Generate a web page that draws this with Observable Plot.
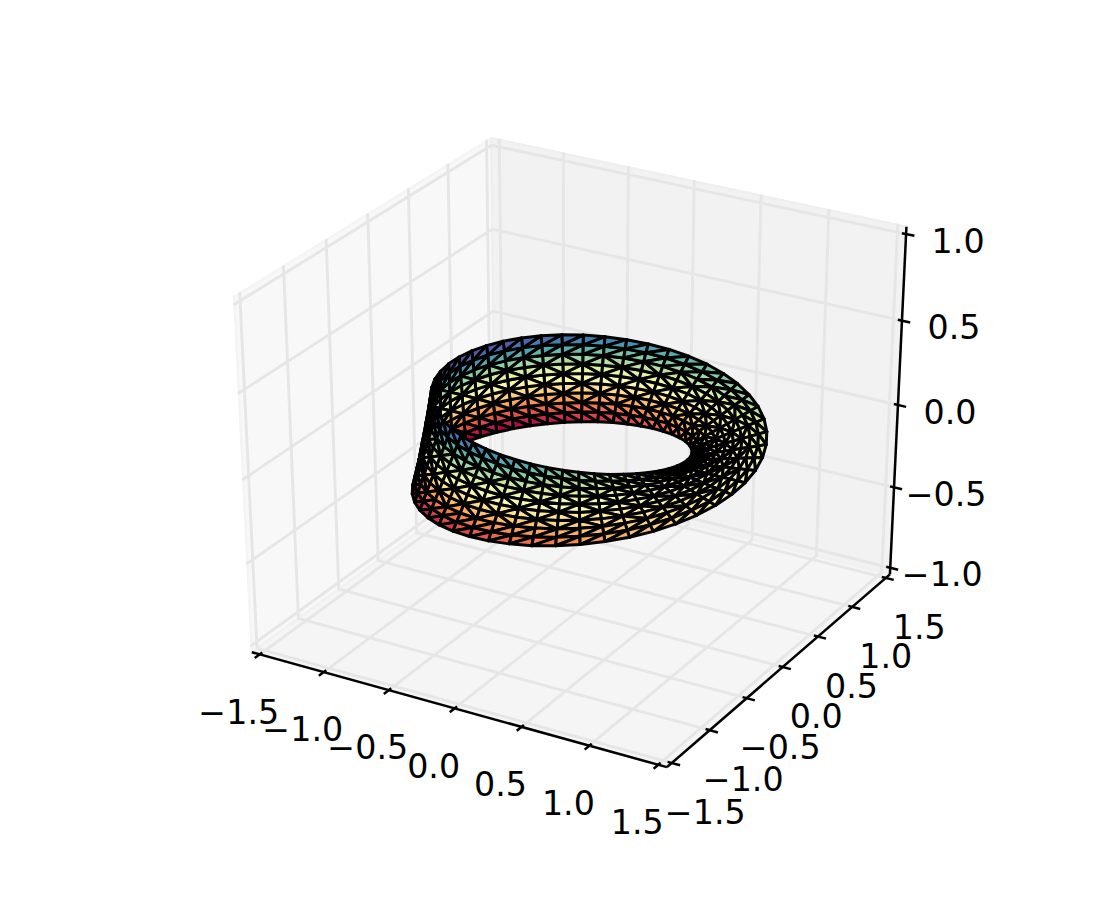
<!DOCTYPE html>
<html>
<head>
<meta charset="utf-8">
<script src="https://cdn.jsdelivr.net/npm/d3@7"></script>
<script src="https://cdn.jsdelivr.net/npm/@observablehq/plot@0.6"></script>
<style>
html,body{margin:0;padding:0;background:#fff;overflow:hidden}
svg{display:block}
</style>
</head>
<body>
<div id="chart"></div>
<script>
const xTicks = [-1.5,-1,-0.5,0,0.5,1,1.5];
const yTicks = [-1.5,-1,-0.5,0,0.5,1,1.5];
const zTicks = [-1,-0.5,0,0.5,1];
const xTickLabels = ["−1.5","−1.0","−0.5","0.0","0.5","1.0","1.5"];
const yTickLabels = ["−1.5","−1.0","−0.5","0.0","0.5","1.0","1.5"];
const zTickLabels = ["−1.0","−0.5","0.0","0.5","1.0"];
const xyLimits = [-1.5, 1.5];
const zLimits = [-1, 1];
const xyBox = [-1.5625, 1.5625];
const zBox = [-1.04167, 1.04167];

// Surface vertices read as 50 columns around the ring, 10 points across the strip
const stripX = [
[.75,.806,.861,.917,.972,1.028,1.083,1.139,1.194,1.25],
[.745,.8,.855,.91,.964,1.019,1.074,1.129,1.184,1.239],
[.727,.781,.834,.887,.941,.994,1.047,1.1,1.154,1.207],
[.7,.75,.801,.851,.902,.952,1.003,1.053,1.104,1.154],
[.66,.707,.754,.801,.848,.894,.941,.988,1.035,1.082],
[.611,.654,.696,.738,.78,.823,.865,.907,.949,.992],
[.552,.589,.626,.663,.7,.737,.774,.811,.848,.885],
[.483,.514,.545,.577,.608,.639,.67,.701,.733,.764],
[.405,.431,.456,.481,.506,.531,.556,.581,.606,.631],
[.32,.339,.358,.377,.395,.414,.433,.452,.471,.49],
[.227,.24,.253,.266,.278,.291,.303,.316,.329,.342],
[.129,.136,.143,.149,.156,.163,.17,.176,.183,.19],
[.026,.028,.029,.03,.031,.033,.034,.035,.036,.038],
[-.08,-.083,-.087,-.091,-.094,-.098,-.101,-.105,-.109,-.112],
[-.188,-.195,-.203,-.211,-.219,-.227,-.234,-.242,-.25,-.258],
[-.296,-.307,-.318,-.329,-.34,-.351,-.362,-.373,-.384,-.395],
[-.403,-.416,-.429,-.443,-.456,-.469,-.482,-.496,-.509,-.522],
[-.506,-.521,-.535,-.55,-.565,-.579,-.594,-.609,-.623,-.638],
[-.604,-.619,-.634,-.65,-.665,-.68,-.695,-.71,-.725,-.74],
[-.696,-.711,-.725,-.74,-.754,-.769,-.783,-.798,-.812,-.827],
[-.778,-.792,-.805,-.818,-.831,-.845,-.858,-.871,-.884,-.898],
[-.851,-.862,-.873,-.884,-.895,-.907,-.918,-.929,-.94,-.951],
[-.911,-.92,-.928,-.936,-.945,-.953,-.962,-.97,-.978,-.987],
[-.958,-.963,-.969,-.974,-.979,-.984,-.989,-.995,-1,-1.005],
[-.99,-.992,-.994,-.995,-.997,-.999,-1.001,-1.002,-1.004,-1.006],
[-1.006,-1.004,-1.002,-1.001,-.999,-.997,-.995,-.994,-.992,-.99],
[-1.005,-1,-.995,-.989,-.984,-.979,-.974,-.969,-.963,-.958],
[-.987,-.978,-.97,-.962,-.953,-.945,-.936,-.928,-.92,-.911],
[-.951,-.94,-.929,-.918,-.907,-.895,-.884,-.873,-.862,-.851],
[-.898,-.884,-.871,-.858,-.845,-.831,-.818,-.805,-.792,-.778],
[-.827,-.812,-.798,-.783,-.769,-.754,-.74,-.725,-.711,-.696],
[-.74,-.725,-.71,-.695,-.68,-.665,-.65,-.634,-.619,-.604],
[-.638,-.623,-.609,-.594,-.579,-.565,-.55,-.535,-.521,-.506],
[-.522,-.509,-.496,-.482,-.469,-.456,-.443,-.429,-.416,-.403],
[-.395,-.384,-.373,-.362,-.351,-.34,-.329,-.318,-.307,-.296],
[-.258,-.25,-.242,-.234,-.227,-.219,-.211,-.203,-.195,-.188],
[-.112,-.109,-.105,-.101,-.098,-.094,-.091,-.087,-.083,-.08],
[.038,.036,.035,.034,.033,.031,.03,.029,.028,.026],
[.19,.183,.176,.17,.163,.156,.149,.143,.136,.129],
[.342,.329,.316,.303,.291,.278,.266,.253,.24,.227],
[.49,.471,.452,.433,.414,.395,.377,.358,.339,.32],
[.631,.606,.581,.556,.531,.506,.481,.456,.431,.405],
[.764,.733,.701,.67,.639,.608,.577,.545,.514,.483],
[.885,.848,.811,.774,.737,.7,.663,.626,.589,.552],
[.992,.949,.907,.865,.823,.78,.738,.696,.654,.611],
[1.082,1.035,.988,.941,.894,.848,.801,.754,.707,.66],
[1.154,1.104,1.053,1.003,.952,.902,.851,.801,.75,.7],
[1.207,1.154,1.1,1.047,.994,.941,.887,.834,.781,.727],
[1.239,1.184,1.129,1.074,1.019,.964,.91,.855,.8,.745],
[1.25,1.194,1.139,1.083,1.028,.972,.917,.861,.806,.75]
];
const stripY = [
[0,0,0,0,0,0,0,0,0,0],
[.096,.103,.11,.117,.124,.132,.139,.146,.153,.16],
[.191,.205,.219,.233,.247,.261,.275,.289,.303,.317],
[.283,.303,.324,.344,.365,.385,.406,.426,.447,.467],
[.372,.399,.425,.451,.478,.504,.531,.557,.583,.61],
[.456,.488,.519,.551,.582,.614,.645,.677,.708,.74],
[.535,.571,.606,.642,.678,.714,.749,.785,.821,.857],
[.606,.645,.684,.723,.762,.801,.841,.88,.919,.958],
[.669,.71,.752,.793,.834,.876,.917,.958,1,1.041],
[.723,.765,.808,.851,.893,.936,.978,1.021,1.063,1.106],
[.767,.81,.852,.895,.937,.98,1.023,1.065,1.108,1.151],
[.799,.841,.883,.925,.966,1.008,1.05,1.092,1.133,1.175],
[.82,.86,.9,.94,.98,1.02,1.06,1.099,1.139,1.179],
[.828,.865,.902,.939,.977,1.014,1.051,1.088,1.125,1.162],
[.823,.857,.891,.924,.958,.992,1.026,1.059,1.093,1.127],
[.805,.835,.864,.894,.924,.954,.984,1.014,1.043,1.073],
[.772,.798,.823,.849,.874,.9,.925,.951,.976,1.002],
[.725,.746,.767,.788,.809,.831,.852,.873,.894,.915],
[.665,.682,.698,.715,.732,.748,.765,.782,.798,.815],
[.592,.604,.617,.629,.642,.654,.667,.679,.692,.704],
[.507,.515,.524,.533,.541,.55,.558,.567,.576,.584],
[.41,.415,.42,.426,.431,.437,.442,.447,.453,.458],
[.302,.305,.308,.311,.314,.316,.319,.322,.325,.328],
[.186,.187,.188,.189,.19,.192,.193,.194,.195,.196],
[.063,.064,.064,.064,.064,.064,.064,.064,.064,.065],
[-.065,-.064,-.064,-.064,-.064,-.064,-.064,-.064,-.064,-.063],
[-.196,-.195,-.194,-.193,-.192,-.19,-.189,-.188,-.187,-.186],
[-.328,-.325,-.322,-.319,-.316,-.314,-.311,-.308,-.305,-.302],
[-.458,-.453,-.447,-.442,-.437,-.431,-.426,-.42,-.415,-.41],
[-.584,-.576,-.567,-.558,-.55,-.541,-.533,-.524,-.515,-.507],
[-.704,-.692,-.679,-.667,-.654,-.642,-.629,-.617,-.604,-.592],
[-.815,-.798,-.782,-.765,-.748,-.732,-.715,-.698,-.682,-.665],
[-.915,-.894,-.873,-.852,-.831,-.809,-.788,-.767,-.746,-.725],
[-1.002,-.976,-.951,-.925,-.9,-.874,-.849,-.823,-.798,-.772],
[-1.073,-1.043,-1.014,-.984,-.954,-.924,-.894,-.864,-.835,-.805],
[-1.127,-1.093,-1.059,-1.026,-.992,-.958,-.924,-.891,-.857,-.823],
[-1.162,-1.125,-1.088,-1.051,-1.014,-.977,-.939,-.902,-.865,-.828],
[-1.179,-1.139,-1.099,-1.06,-1.02,-.98,-.94,-.9,-.86,-.82],
[-1.175,-1.133,-1.092,-1.05,-1.008,-.966,-.925,-.883,-.841,-.799],
[-1.151,-1.108,-1.065,-1.023,-.98,-.937,-.895,-.852,-.81,-.767],
[-1.106,-1.063,-1.021,-.978,-.936,-.893,-.851,-.808,-.765,-.723],
[-1.041,-1,-.958,-.917,-.876,-.834,-.793,-.752,-.71,-.669],
[-.958,-.919,-.88,-.841,-.801,-.762,-.723,-.684,-.645,-.606],
[-.857,-.821,-.785,-.749,-.714,-.678,-.642,-.606,-.571,-.535],
[-.74,-.708,-.677,-.645,-.614,-.582,-.551,-.519,-.488,-.456],
[-.61,-.583,-.557,-.531,-.504,-.478,-.451,-.425,-.399,-.372],
[-.467,-.447,-.426,-.406,-.385,-.365,-.344,-.324,-.303,-.283],
[-.317,-.303,-.289,-.275,-.261,-.247,-.233,-.219,-.205,-.191],
[-.16,-.153,-.146,-.139,-.132,-.124,-.117,-.11,-.103,-.096],
[0,0,0,0,0,0,0,0,0,0]
];
const stripZ = [
[0,0,0,0,0,0,0,0,0,0],
[-.016,-.012,-.009,-.005,-.002,.002,.005,.009,.012,.016],
[-.032,-.025,-.018,-.011,-.004,.004,.011,.018,.025,.032],
[-.048,-.037,-.027,-.016,-.005,.005,.016,.027,.037,.048],
[-.063,-.049,-.035,-.021,-.007,.007,.021,.035,.049,.063],
[-.079,-.061,-.044,-.026,-.009,.009,.026,.044,.061,.079],
[-.094,-.073,-.052,-.031,-.01,.01,.031,.052,.073,.094],
[-.108,-.084,-.06,-.036,-.012,.012,.036,.06,.084,.108],
[-.123,-.095,-.068,-.041,-.014,.014,.041,.068,.095,.123],
[-.136,-.106,-.076,-.045,-.015,.015,.045,.076,.106,.136],
[-.15,-.116,-.083,-.05,-.017,.017,.05,.083,.116,.15],
[-.162,-.126,-.09,-.054,-.018,.018,.054,.09,.126,.162],
[-.174,-.135,-.097,-.058,-.019,.019,.058,.097,.135,.174],
[-.185,-.144,-.103,-.062,-.021,.021,.062,.103,.144,.185],
[-.195,-.152,-.109,-.065,-.022,.022,.065,.109,.152,.195],
[-.205,-.159,-.114,-.068,-.023,.023,.068,.114,.159,.205],
[-.214,-.166,-.119,-.071,-.024,.024,.071,.119,.166,.214],
[-.222,-.172,-.123,-.074,-.025,.025,.074,.123,.172,.222],
[-.229,-.178,-.127,-.076,-.025,.025,.076,.127,.178,.229],
[-.235,-.182,-.13,-.078,-.026,.026,.078,.13,.182,.235],
[-.24,-.186,-.133,-.08,-.027,.027,.08,.133,.186,.24],
[-.244,-.19,-.135,-.081,-.027,.027,.081,.135,.19,.244],
[-.247,-.192,-.137,-.082,-.027,.027,.082,.137,.192,.247],
[-.249,-.194,-.138,-.083,-.028,.028,.083,.138,.194,.249],
[-.25,-.194,-.139,-.083,-.028,.028,.083,.139,.194,.25],
[-.25,-.194,-.139,-.083,-.028,.028,.083,.139,.194,.25],
[-.249,-.194,-.138,-.083,-.028,.028,.083,.138,.194,.249],
[-.247,-.192,-.137,-.082,-.027,.027,.082,.137,.192,.247],
[-.244,-.19,-.135,-.081,-.027,.027,.081,.135,.19,.244],
[-.24,-.186,-.133,-.08,-.027,.027,.08,.133,.186,.24],
[-.235,-.182,-.13,-.078,-.026,.026,.078,.13,.182,.235],
[-.229,-.178,-.127,-.076,-.025,.025,.076,.127,.178,.229],
[-.222,-.172,-.123,-.074,-.025,.025,.074,.123,.172,.222],
[-.214,-.166,-.119,-.071,-.024,.024,.071,.119,.166,.214],
[-.205,-.159,-.114,-.068,-.023,.023,.068,.114,.159,.205],
[-.195,-.152,-.109,-.065,-.022,.022,.065,.109,.152,.195],
[-.185,-.144,-.103,-.062,-.021,.021,.062,.103,.144,.185],
[-.174,-.135,-.097,-.058,-.019,.019,.058,.097,.135,.174],
[-.162,-.126,-.09,-.054,-.018,.018,.054,.09,.126,.162],
[-.15,-.116,-.083,-.05,-.017,.017,.05,.083,.116,.15],
[-.136,-.106,-.076,-.045,-.015,.015,.045,.076,.106,.136],
[-.123,-.095,-.068,-.041,-.014,.014,.041,.068,.095,.123],
[-.108,-.084,-.06,-.036,-.012,.012,.036,.06,.084,.108],
[-.094,-.073,-.052,-.031,-.01,.01,.031,.052,.073,.094],
[-.079,-.061,-.044,-.026,-.009,.009,.026,.044,.061,.079],
[-.063,-.049,-.035,-.021,-.007,.007,.021,.035,.049,.063],
[-.048,-.037,-.027,-.016,-.005,.005,.016,.027,.037,.048],
[-.032,-.025,-.018,-.011,-.004,.004,.011,.018,.025,.032],
[-.016,-.012,-.009,-.005,-.002,.002,.005,.009,.012,.016],
[0,0,0,0,0,0,0,0,0,0]
];

// View basis for the 3D camera (elevation 30, azimuth -60, distance 10)
const viewRight = [.866025,.5,0];
const viewUp = [-.25,.433013,.866025];
const viewDepth = [.433013,-.75,.5];
const viewDistance = 10;

function project(x, y, z) {
  const px = (x - xyLimits[0]) / (xyLimits[1] - xyLimits[0]) - .5;
  const py = (y - xyLimits[0]) / (xyLimits[1] - xyLimits[0]) - .5;
  const pz = (z - zLimits[0]) / (zLimits[1] - zLimits[0]) - .5;
  const dot = v => v[0]*px + v[1]*py + v[2]*pz;
  const w = viewDistance - dot(viewDepth);
  return {px: dot(viewRight)/w, py: dot(viewUp)/w, depth: dot(viewDepth)};
}
const P = (x,y,z,extra) => Object.assign(project(x,y,z), extra);

const [bx0,bx1] = xyBox, [bz0,bz1] = zBox;
const leftPane = [[bx0,bx0,bz0],[bx0,bx1,bz0],[bx0,bx1,bz1],[bx0,bx0,bz1]].map(p=>P(...p));
const backPane = [[bx0,bx1,bz0],[bx1,bx1,bz0],[bx1,bx1,bz1],[bx0,bx1,bz1]].map(p=>P(...p));
const floorPane = [[bx0,bx0,bz0],[bx1,bx0,bz0],[bx1,bx1,bz0],[bx0,bx1,bz0]].map(p=>P(...p));

const grid = [];
xTicks.forEach((t,i)=>{ const id="x"+i;
  grid.push(P(t,bx0,bz0,{id}),P(t,bx1,bz0,{id}),P(t,bx1,bz1,{id})); });
yTicks.forEach((t,i)=>{ const id="y"+i;
  grid.push(P(bx1,t,bz0,{id}),P(bx0,t,bz0,{id}),P(bx0,t,bz1,{id})); });
zTicks.forEach((t,i)=>{ const id="z"+i;
  grid.push(P(bx0,bx0,t,{id}),P(bx0,bx1,t,{id}),P(bx1,bx1,t,{id})); });

// Triangulated surface, far faces first
const faces = [];
function addFace(a,b,c){
  const pts=[a,b,c].map(([k,j])=>project(stripX[k][j],stripY[k][j],stripZ[k][j]));
  const zMean=(stripZ[a[0]][a[1]]+stripZ[b[0]][b[1]]+stripZ[c[0]][c[1]])/3;
  faces.push({pts,zMean,depth:d3.mean(pts,p=>p.depth)});
}
for(let k=0;k<stripX.length-1;k++) for(let j=0;j<stripX[k].length-1;j++){
  const forward = j<2 || (j<7 && (k+j)%2===0);
  if(forward){ addFace([k,j],[k+1,j],[k+1,j+1]); addFace([k,j],[k+1,j+1],[k,j+1]); }
  else { addFace([k,j],[k+1,j],[k,j+1]); addFace([k+1,j],[k+1,j+1],[k,j+1]); }
}
faces.sort((a,b)=>a.depth-b.depth);
const faceRows = faces.flatMap((f,i)=>f.pts.map(p=>({px:p.px,py:p.py,id:i,zMean:f.zMean})));
const zExtent = d3.extent(faces,f=>f.zMean);

const outward=.06, inward=.03;
const axisLines = [
  {a:project(bx0,bx0,bz0),b:project(bx1,bx0,bz0)},
  {a:project(bx1,bx0,bz0),b:project(bx1,bx1,bz0)},
  {a:project(bx1,bx1,bz0),b:project(bx1,bx1,bz1)},
  ...xTicks.map(t=>({a:project(t,bx0-outward,bz0),b:project(t,bx0+inward,bz0)})),
  ...yTicks.map(t=>({a:project(bx1+outward,t,bz0),b:project(bx1-inward,t,bz0)})),
  ...zTicks.map(t=>({a:project(bx1+outward,bx1,t),b:project(bx1-inward,bx1,t)}))
];

const labelStyle = {text:"label",x:"px",y:"py",fontSize:33.3,textAnchor:"middle",lineAnchor:"middle",fill:"black",
  fontFamily:"'DejaVu Sans',sans-serif"};
const xLabelRows = xTicks.map((t,i)=>P(t,bx0,bz0,{label:xTickLabels[i]}));
const yLabelRows = yTicks.map((t,i)=>P(bx1,t,bz0,{label:yTickLabels[i]}));
const zLabelRows = zTicks.map((t,i)=>P(bx1,bx1,t,{label:zTickLabels[i]}));

const chart = Plot.plot({
  width:1100, height:900, margin:0,
  x:{domain:[-.125109,.114022],range:[0,1100],axis:null},
  y:{domain:[.11328,-.117904],range:[0,900],axis:null},
  color:{type:"linear",scheme:"Spectral",domain:zExtent},
  marks:[
    Plot.line(leftPane,{x:"px",y:"py",curve:"linear-closed",fill:"#f8f8f8",stroke:"#f4f4f4",strokeWidth:2.5}),
    Plot.line(backPane,{x:"px",y:"py",curve:"linear-closed",fill:"#f2f2f2",stroke:"#efefef",strokeWidth:2.5}),
    Plot.line(floorPane,{x:"px",y:"py",curve:"linear-closed",fill:"#f5f5f5",stroke:"#f1f1f1",strokeWidth:2.5}),
    Plot.line(grid,{x:"px",y:"py",z:"id",stroke:"#e6e6e6",strokeWidth:2.9}),
    Plot.line(faceRows,{x:"px",y:"py",z:"id",fill:"zMean",stroke:"black",strokeWidth:3,curve:"linear-closed"}),
    Plot.link(axisLines,{x1:d=>d.a.px,y1:d=>d.a.py,x2:d=>d.b.px,y2:d=>d.b.py,stroke:"black",strokeWidth:2.5}),
    Plot.text(xLabelRows,{...labelStyle,dx:-21,dy:58.5}),
    Plot.text(yLabelRows,{...labelStyle,dx:33.5,dy:50.5}),
    Plot.text(zLabelRows,{...labelStyle,dx:52,dy:8})
  ]
});
document.getElementById("chart").append(chart);
</script>
</body>
</html>
